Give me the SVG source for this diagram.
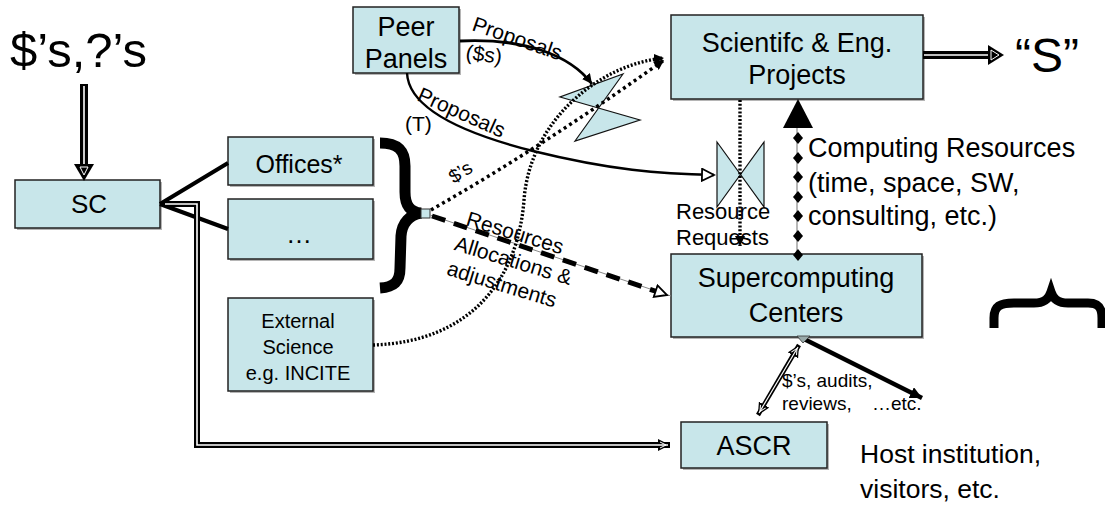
<svg xmlns="http://www.w3.org/2000/svg" width="1105" height="505" viewBox="0 0 1105 505">
<defs>
  <marker id="ahBlack" markerUnits="userSpaceOnUse" markerWidth="14" markerHeight="12" refX="12" refY="6" orient="auto-start-reverse"><path d="M0,0 L12,6 L0,12 Z" fill="#000"/></marker>
  <marker id="ahSmall" markerUnits="userSpaceOnUse" markerWidth="12" markerHeight="10" refX="10" refY="5" orient="auto"><path d="M0,0 L10,5 L0,10 Z" fill="#000"/></marker>
  <marker id="ahHollow" markerUnits="userSpaceOnUse" markerWidth="16" markerHeight="14" refX="13" refY="7" orient="auto"><path d="M1,1 L13,7 L1,13 Z" fill="#fff" stroke="#000" stroke-width="1.8"/></marker>
  <marker id="ahDouble" markerUnits="userSpaceOnUse" markerWidth="14" markerHeight="12" refX="12" refY="6" orient="auto-start-reverse"><path d="M0,0 L12,6 L0,12 Z" fill="#000"/><path d="M2,3 L8,6 L2,9" fill="none" stroke="#fff" stroke-width="1"/></marker>
</defs>
<style>
  .box{fill:#C8E6EA;stroke:#222;stroke-width:1.5}
  .shadow{fill:#b5b5b5}
  text{font-family:"Liberation Sans",Arial,sans-serif;fill:#000}
  .big{font-size:27px}
  .mid{font-size:20px}
  .lbl{font-size:21px}
  .dot{fill:none;stroke:#000;stroke-width:3.5;stroke-dasharray:3 3.5}
  .fine{fill:none;stroke:#000;stroke-width:3.4;stroke-dasharray:2 1.8}
  .core{fill:none;stroke:#fff;stroke-width:1.6}
  .shape{fill:#C8E6EA;stroke:#111;stroke-width:1.2}
</style>

<rect width="1105" height="505" fill="#fff"/>

<!-- free texts -->
<text x="10" y="67" font-size="49">$’s,?’s</text>
<text x="1015" y="72" font-size="48">“S”</text>
<g id="braceLeft"><path d="M380,143 C398,143 405,150 405,166 L405,192 C405,205 410,212 421,213 C410,215 402,222 401,236 L400,268 C400,282 394,287 380,288" fill="none" stroke="#000" stroke-width="11"/></g>
<g id="braceRight"><path d="M994,328 L994,318 C994,306 1000,303 1014,303 L1034,303 C1045,303 1049,298 1051,292 C1053,298 1057,303 1068,303 L1088,303 C1099,303 1102,308 1102,318 L1102,328" fill="none" stroke="#000" stroke-width="9"/></g>

<!-- shapes (collate symbols) -->
<g id="bolt"><polygon class="shape" points="623,74 575,141 640,120 560,97"/></g>
<g id="bowtie"><polygon class="shape" points="717,142 764,207 764,142 717,207"/></g>

<!-- nodes -->
<g id="peer"><rect class="shadow" x="355" y="9" width="106" height="66"/><rect class="box" x="353" y="7" width="106" height="66"/>
  <text class="big" x="406" y="36" text-anchor="middle">Peer</text><text class="big" x="406" y="68" text-anchor="middle">Panels</text></g>
<g id="projects"><rect class="shadow" x="673" y="17" width="252" height="84"/><rect class="box" x="671" y="15" width="252" height="84"/>
  <text class="big" x="797" y="52" text-anchor="middle">Scientifc &amp; Eng.</text><text class="big" x="797" y="84" text-anchor="middle">Projects</text></g>
<g id="sc"><rect class="shadow" x="17" y="182" width="145" height="48"/><rect class="box" x="15" y="180" width="145" height="48"/>
  <text x="89" y="213" font-size="26" text-anchor="middle">SC</text></g>
<g id="offices"><rect class="shadow" x="230" y="139" width="145" height="48"/><rect class="box" x="228" y="137" width="145" height="48"/>
  <text x="299" y="173" font-size="25" text-anchor="middle">Offices*</text></g>
<g id="others"><rect class="shadow" x="230" y="201" width="145" height="60"/><rect class="box" x="228" y="199" width="145" height="60"/>
  <text x="299" y="243" font-size="26" text-anchor="middle">…</text></g>
<g id="external"><rect class="shadow" x="230" y="300" width="145" height="93"/><rect class="box" x="228" y="298" width="145" height="93"/>
  <text class="mid" x="298" y="328" text-anchor="middle">External</text><text class="mid" x="298" y="354" text-anchor="middle">Science</text><text class="mid" x="298" y="380" text-anchor="middle">e.g. INCITE</text></g>
<g id="centers"><rect class="shadow" x="673" y="256" width="251" height="83"/><rect class="box" x="671" y="254" width="251" height="83"/>
  <text class="big" x="796" y="287" text-anchor="middle">Supercomputing</text><text class="big" x="796" y="322" text-anchor="middle">Centers</text></g>
<g id="ascr"><rect class="shadow" x="683" y="424" width="146" height="46"/><rect class="box" x="681" y="422" width="146" height="46"/>
  <text x="754" y="455" font-size="27" text-anchor="middle">ASCR</text></g>

<!-- connectors -->
<g id="connectors">
  <!-- $'s,?'s to SC -->
  <path d="M84,84 L84,166" stroke="#000" stroke-width="8" fill="none"/>
  <path class="core" d="M84,86 L84,164"/>
  <polygon points="74,164 94,164 84,181" fill="#000"/>
  <polygon points="80,167 88,167 84,175" fill="none" stroke="#fff" stroke-width="1"/>
  <!-- Projects to S -->
  <path d="M923,55 L990,55" stroke="#000" stroke-width="8" fill="none"/>
  <path class="core" d="M924,55 L988,55"/>
  <polygon points="988,45 1004,55 988,65" fill="#000"/>
  <polygon points="991,50 999,55 991,60" fill="none" stroke="#fff" stroke-width="1"/>
  <!-- SC to offices -->
  <path d="M160,204 L228,163 M160,204 L228,229" stroke="#000" stroke-width="4" fill="none"/>
  <!-- SC to ASCR -->
  <path d="M162,204 L197,204 L197,445 L670,445" stroke="#000" stroke-width="6" fill="none" marker-end="url(#ahDouble)"/>
  <path class="core" d="M165,204 L197,204 L197,445 L668,445"/>
  <!-- brace point -->
  <rect x="421" y="209" width="9" height="9" fill="#C8E6EA" stroke="#333" stroke-width="1"/>
  <!-- Resources allocations dashed -->
  <path d="M430,215 L671,296" stroke="#888" stroke-width="1" fill="none"/>
  <path d="M432,216 L667,295" stroke="#000" stroke-width="5" stroke-dasharray="14 9" fill="none" marker-end="url(#ahHollow)"/>
  <!-- $'s dotted -->
  <path class="dot" d="M431,210 Q545,145 664,60" marker-end="url(#ahSmall)"/>
  <!-- external science dotted -->
  <path class="fine" d="M373,345 C470,342 518,280 524,200 C530,120 600,64 664,58" marker-end="url(#ahSmall)"/>
  <!-- Proposals ($s) -->
  <path d="M460,41 C525,38 570,55 592,84" stroke="#000" stroke-width="2.8" fill="none" marker-end="url(#ahSmall)"/>
  <!-- Proposals (T) -->
  <path d="M407,73 C408,95 430,125 533,151 C610,170 660,174 714,175" stroke="#000" stroke-width="2.4" fill="none" marker-end="url(#ahHollow)"/>
  <!-- Resource requests -->
  <path class="fine" d="M740,100 L740,246" marker-end="url(#ahSmall)"/>
  <!-- Computing resources -->
  <path d="M797,128 L797,254" stroke="#888" stroke-width="1.2" fill="none"/>
  <g fill="#000">
    <polygon points="798,132 803,138 798,144 793,138"/>
    <polygon points="798,152 803,158 798,164 793,158"/>
    <polygon points="798,171 803,177 798,183 793,177"/>
    <polygon points="798,191 803,197 798,203 793,197"/>
    <polygon points="798,210 803,216 798,222 793,216"/>
    <polygon points="798,230 803,236 798,242 793,236"/>
    <polygon points="798,249 803,255 798,261 793,255"/>
  </g>
  <polygon points="798,99 813,128 783,128" fill="#000"/>
  <!-- Centers <-> ASCR -->
  <path d="M799,345 L758,415" stroke="#000" stroke-width="4.5" fill="none" marker-start="url(#ahDouble)" marker-end="url(#ahDouble)"/>
  <path class="core" d="M798,347 L759,413" style="stroke-width:1.2"/>
  <!-- Centers to host -->
  <path d="M804,339 L922,398" stroke="#000" stroke-width="4.5" fill="none" marker-end="url(#ahBlack)"/>
  <polygon points="797,336 810,336 803,343" fill="#9aa" stroke="#333" stroke-width="0.8"/>
</g>

<!-- labels -->
<text class="lbl" transform="translate(471,30) rotate(19)">Proposals</text>
<text class="lbl" transform="translate(465,59) rotate(8)">($s)</text>
<text class="lbl" transform="translate(416,100) rotate(24)">Proposals</text>
<text class="lbl" x="405" y="131">(T)</text>
<text font-size="19" transform="translate(454,184) rotate(-33)">$’s</text>
<g transform="translate(465,225) rotate(17)" font-size="21">
  <text x="0" y="0">Resources</text>
  <text x="-4" y="27">Allocations &amp;</text>
  <text x="-4" y="53">adjustments</text>
</g>
<text x="676" y="219" font-size="22">Resource</text>
<text x="676" y="245" font-size="22">Requests</text>
<text x="808" y="157" font-size="27">Computing Resources</text>
<text x="808" y="192" font-size="27">(time, space, SW,</text>
<text x="808" y="225" font-size="27">consulting, etc.)</text>
<text x="782" y="387" font-size="19">$’s, audits,</text>
<text font-size="19" y="410"><tspan x="782">reviews,</tspan><tspan x="872">…etc.</tspan></text>
<text x="860" y="463" font-size="26.5">Host institution,</text>
<text x="860" y="498" font-size="26.5">visitors, etc.</text>
</svg>
